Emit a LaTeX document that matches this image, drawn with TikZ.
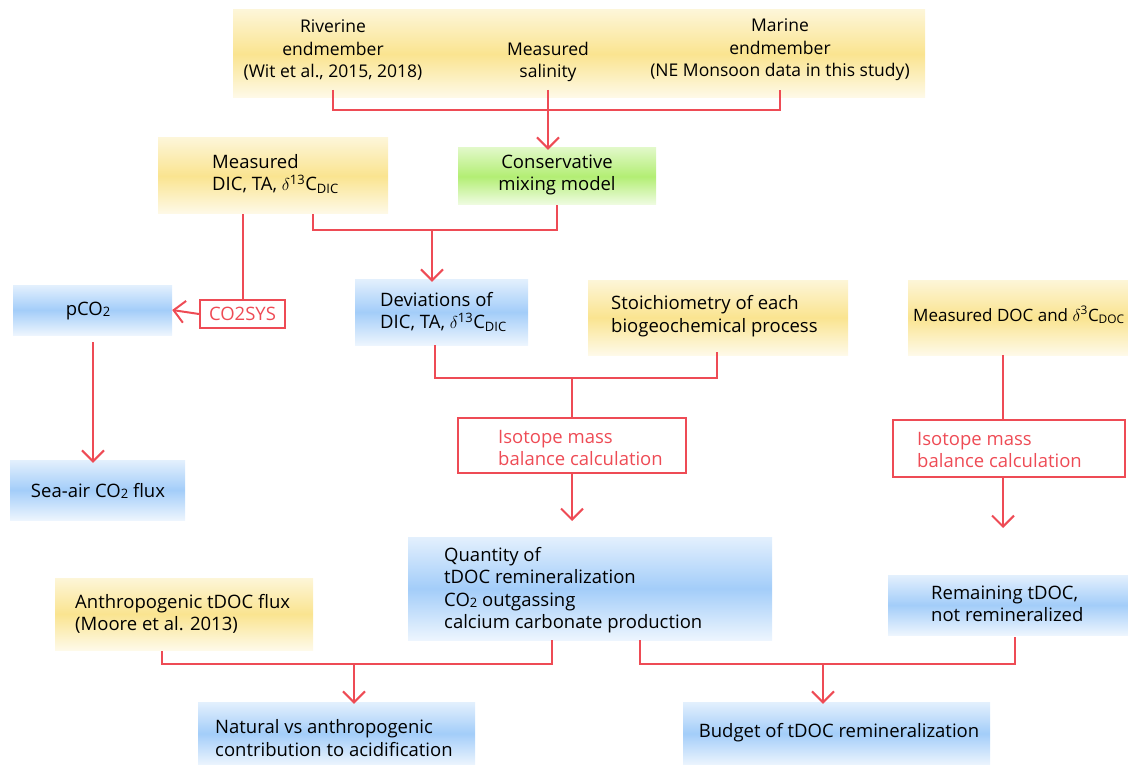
\documentclass[tikz,border=0pt]{standalone}
\usepackage{fontspec}
\setmainfont{Open Sans}
\usetikzlibrary{arrows.meta}
\definecolor{ycol}{HTML}{FAE490}
\definecolor{bcol}{HTML}{A3CDF9}
\definecolor{gcol}{HTML}{B3EE74}
\definecolor{rcol}{HTML}{EE4B55}
\newcommand\cotwo{CO\raisebox{-1.2pt}{\fontsize{13}{13}\selectfont 2}}
\newcommand\dthirteen[1]{$\delta$\textsuperscript{13}C\textsubscript{#1}}
\tikzset{
  boxbase/.style={inner sep=0pt},
  ybox/.style={boxbase, top color=ycol!35, bottom color=ycol!20, middle color=ycol},
  bbox/.style={boxbase, top color=bcol!30, bottom color=bcol!20, middle color=bcol},
  gbox/.style={boxbase, top color=gcol!40, bottom color=gcol!20, middle color=gcol},
  rbox/.style={inner sep=0pt, draw=rcol, line width=2pt},
  txt/.style={inner sep=0pt, font=\fontsize{18.5}{22.5}\selectfont, align=center, text=black},
  toptxt/.style={txt, font=\fontsize{17.5}{22.5}\selectfont},
  ltxt/.style={txt, align=left, anchor=west},
  rtxt/.style={ltxt, text=rcol},
  conn/.style={draw=rcol, line width=2pt},
  arr/.style={conn, -{Straight Barb[length=11pt,width=22pt,line width=2pt]}},
}
\begin{document}
\begin{tikzpicture}[x=1pt,y=-1pt]
\useasboundingbox (0,0) rectangle (1128,765);
% top box
\node[ybox, minimum width=692pt, minimum height=88pt] (top) at (579,54) {};
\node[toptxt] (riv) at (333,50) {Riverine\\endmember\\(Wit et al., 2015, 2018)};
\node[toptxt] (sal) at (548,62) {Measured\\salinity};
\node[toptxt] (mar) at (780,50) {Marine\\endmember\\(NE Monsoon data in this study)};
% second row
\node[gbox, minimum width=198pt, minimum height=57pt] (mix) at (557,176.5) {};
\node[txt] (mixT) at (557,175) {Conservative\\mixing model};
\node[ybox, minimum width=230pt, minimum height=76pt] (mdic) at (273,176) {};
\node[ltxt] (mdicT) at (212,174) {Measured\\DIC, TA, \dthirteen{DIC}};
% third row
\node[rbox, minimum width=85pt, minimum height=28pt] (sys) at (242.5,314) {};
\node[txt, text=rcol] (sysT) at (242.5,314) {CO2SYS};
\node[bbox, minimum width=159pt, minimum height=50pt] (pco) at (92.5,310) {};
\node[txt] (pcoT) at (88,311) {p\cotwo};
\node[bbox, minimum width=173pt, minimum height=66pt] (dev) at (441.5,312) {};
\node[ltxt] (devT) at (380,312) {Deviations of\\DIC, TA, \dthirteen{DIC}};
\node[ybox, minimum width=260pt, minimum height=75pt] (sto) at (718,317.5) {};
\node[ltxt] (stoT) at (611,316) {Stoichiometry of each\\biogeochemical process};
\node[ybox, minimum width=220pt, minimum height=75pt] (doc) at (1018,317.5) {};
\node[ltxt, font=\fontsize{17}{20}\selectfont] (docT) at (913,315) {Measured DOC and $\delta$\textsuperscript{3}C\textsubscript{DOC}};
% fourth row
\node[bbox, minimum width=175pt, minimum height=60pt] (flux) at (97.5,490) {};
\node[txt] (fluxT) at (98,491) {Sea-air \cotwo{} flux};
\node[rbox, minimum width=228pt, minimum height=55pt] (iso1) at (572,445.5) {};
\node[rtxt] (iso1T) at (498,448) {Isotope mass\\balance calculation};
\node[rbox, minimum width=232pt, minimum height=57pt] (iso2) at (1009,448.5) {};
\node[rtxt] (iso2T) at (917,450) {Isotope mass\\balance calculation};
% fifth row
\node[bbox, minimum width=364pt, minimum height=103pt] (qty) at (590,588.5) {};
\node[ltxt] (qtyT) at (444,590) {Quantity of\\tDOC remineralization\\\cotwo{} outgassing\\calcium carbonate production};
\node[ybox, minimum width=258pt, minimum height=72pt] (ant) at (184,614) {};
\node[ltxt] (antT) at (75,614) {Anthropogenic tDOC flux\\(Moore et al. 2013)};
\node[bbox, minimum width=240pt, minimum height=60pt] (rem) at (1008,605) {};
\node[ltxt] (remT) at (931,604) {Remaining tDOC,\\not remineralized};
% bottom row
\node[bbox, minimum width=277pt, minimum height=63pt] (nat) at (336.5,733.5) {};
\node[ltxt] (natT) at (215,738) {Natural vs anthropogenic\\contribution to acidification};
\node[bbox, minimum width=307pt, minimum height=63pt] (bud) at (836.5,733.5) {};
\node[txt] (budT) at (839,733) {Budget of tDOC remineralization};
% connectors
\coordinate (j1) at (548,110);
\draw[conn] (riv.south |- 0,90) -- (riv.south |- j1) -- (mar.south |- j1) -- (mar.south |- 0,90);
\draw[conn] (sal.south |- 0,90) -- (j1);
\draw[arr] (j1) -- ([yshift=-2pt]mix.north -| j1);
\coordinate (j2) at (432,230);
\draw[conn] (mdic.south -| 313,0) -- (313,230) -- (557,230) -- (mix.south -| 557,0);
\draw[arr] (j2) -- ([yshift=-3pt]dev.north -| j2);
\draw[conn] (mdic.south -| 243,0) -- (sys.north -| 243,0);
\draw[arr] (sys.west) -- (pco.east);
\draw[arr] (pco.south -| 93,0) ++(0,7) -- ([yshift=-3pt]flux.north -| 93,0);
\coordinate (j3) at (572,378);
\draw[conn] (dev.south -| 435,0) -- (435,378) -- (717,378) -- (717,352);
\draw[conn] (j3) -- (iso1.north -| j3);
\draw[arr] (iso1.south -| j3) -- (572,521);
\draw[conn] (1003,355) -- (iso2.north -| 1003,0);
\draw[arr] (iso2.south -| 1003,0) -- (1003,528);
\coordinate (j4) at (354,664);
\draw[conn] (162,651) -- (162,664) -- (552,664) -- (qty.south -| 552,0);
\draw[arr] (j4) -- ([yshift=-2pt]nat.north -| j4);
\coordinate (j5) at (823,664);
\draw[conn] (qty.south -| 640,0) -- (640,664) -- (1015,664) -- (1015,637);
\draw[arr] (j5) -- ([yshift=-2pt]bud.north -| j5);
\end{tikzpicture}
\end{document}
